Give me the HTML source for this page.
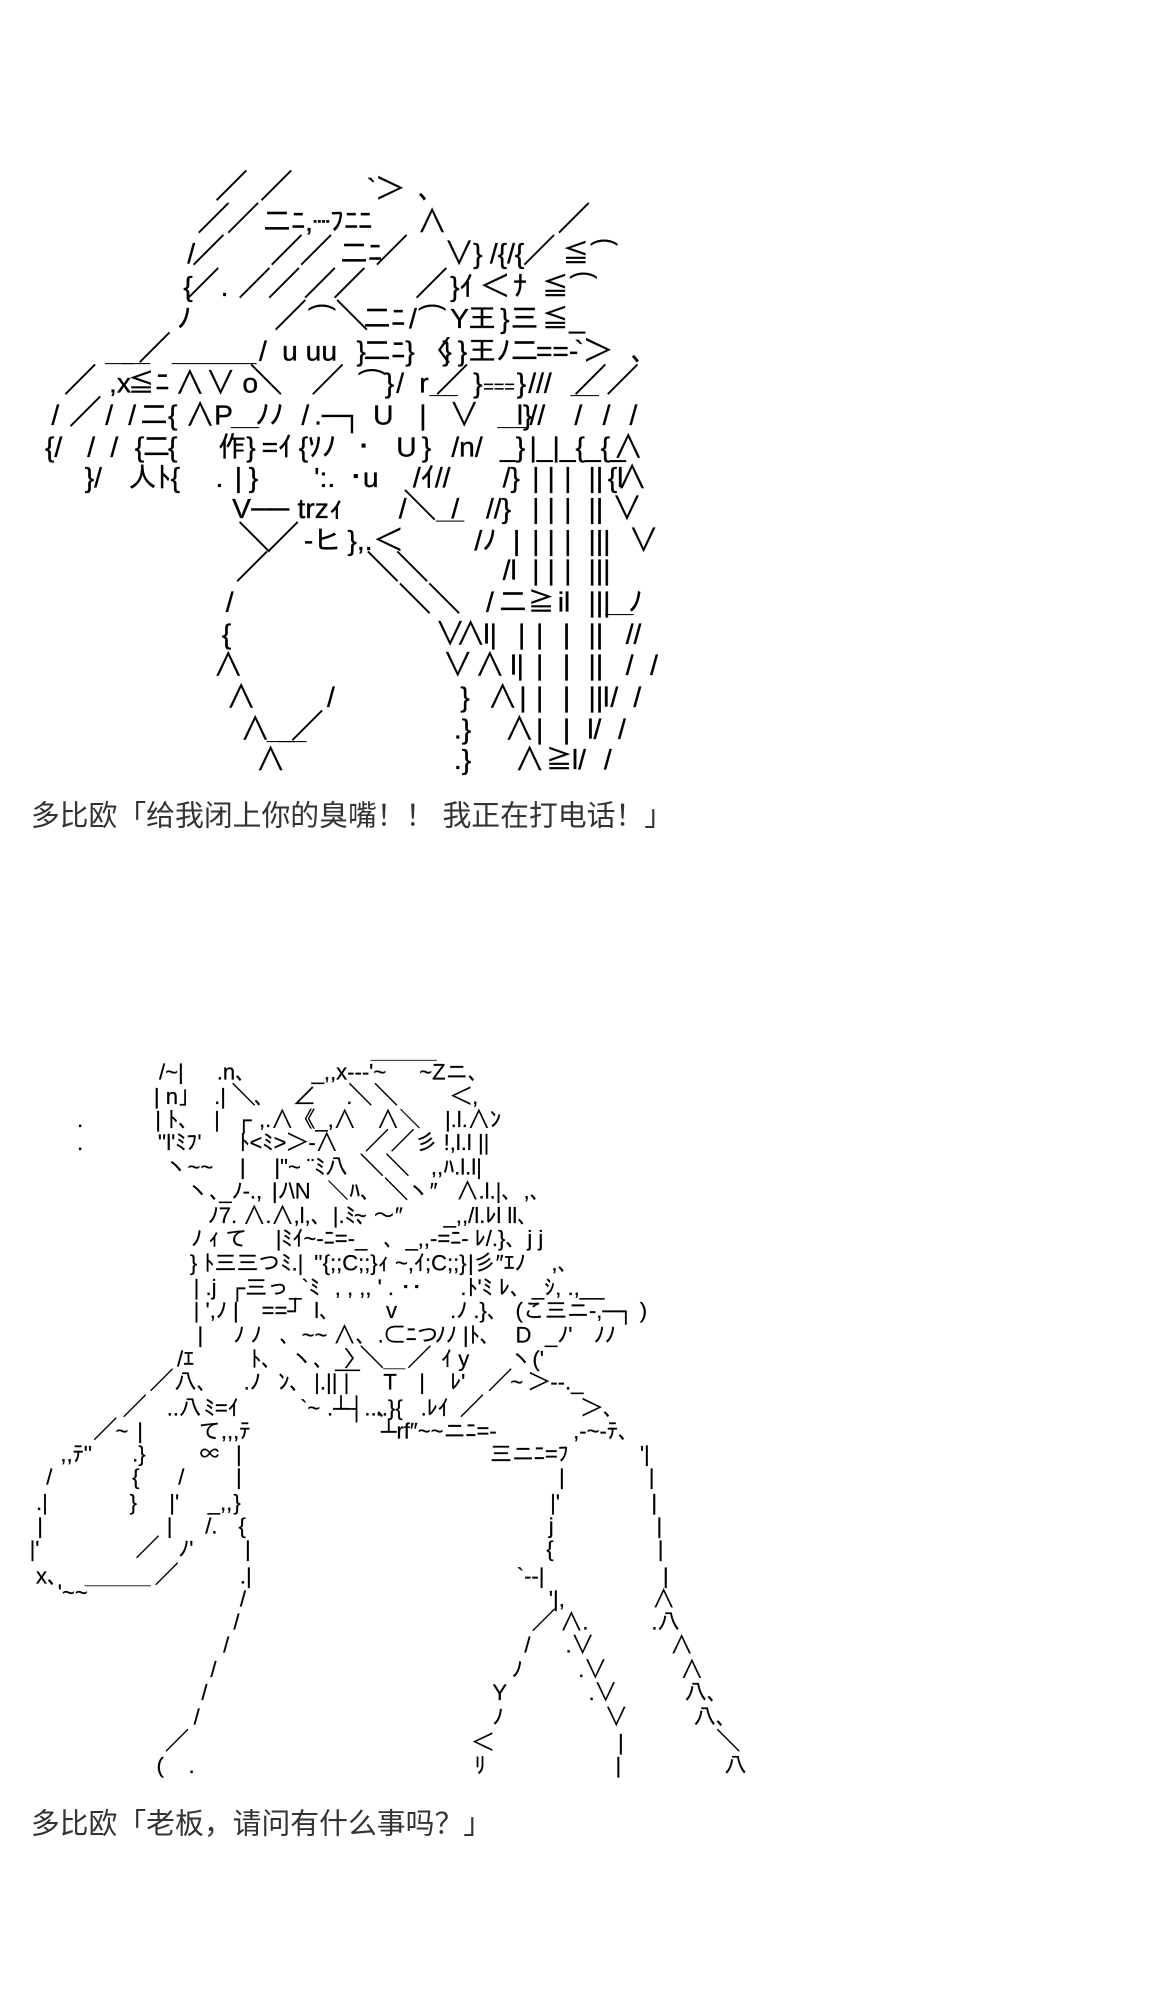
<!DOCTYPE html>
<html><head><meta charset="utf-8"><style>
html,body{margin:0;padding:0;background:#fff;width:1154px;height:1991px;overflow:hidden}
svg{display:block}
text{font-family:"Liberation Sans","IPAGothic",sans-serif;fill:#000;white-space:pre}
.a text{font-size:22px;stroke:#000;stroke-width:.28px}
.a .w{font-size:27px}
.a .e{font-size:14px}
.b text{font-size:17.2px;stroke:#000;stroke-width:.18px}
.b .w{font-size:20px}
.c{font-family:"Liberation Sans","Noto Sans CJK SC",sans-serif;font-size:22.5px;fill:#333}
</style></head><body>
<svg width="1154" height="1991" viewBox="0 0 900 1553" xmlns="http://www.w3.org/2000/svg">
<g class="a">
<text y="155"><tspan class="w" x="167">／</tspan><tspan class="w" x="202">／</tspan><tspan x="286">`＞</tspan><tspan x="326">、</tspan></text>
<text y="180"><tspan class="w" x="153">／</tspan><tspan class="w" x="176">／</tspan><tspan x="205">二ﾆ,┈ﾌﾆﾆ</tspan><tspan x="326">∧</tspan><tspan class="w" x="434">／</tspan></text>
<text y="205"><tspan x="146">/</tspan><tspan class="w" x="149">／</tspan><tspan class="w" x="210">／</tspan><tspan class="w" x="233">／</tspan><tspan x="265">二ﾆ</tspan><tspan class="w" x="292">／</tspan><tspan x="347">∨}</tspan><tspan x="382">/{/{</tspan><tspan class="w" x="407">／</tspan><tspan x="438">≦</tspan><tspan x="460">⌒</tspan></text>
<text y="231"><tspan x="143">{</tspan><tspan class="w" x="145">／</tspan><tspan x="172">.</tspan><tspan class="w" x="185">／</tspan><tspan class="w" x="208">／</tspan><tspan class="w" x="236">／</tspan><tspan class="w" x="259">／</tspan><tspan class="w" x="323">／</tspan><tspan x="351">}ｲ</tspan><tspan x="375">＜</tspan><tspan x="400">ﾅ</tspan><tspan x="422">≦</tspan><tspan x="444">⌒</tspan></text>
<text y="256"><tspan x="138">ﾉ</tspan><tspan class="w" x="213">／</tspan><tspan x="240">⌒</tspan><tspan class="w" x="261">＼</tspan><tspan x="283">二ﾆ</tspan><tspan x="319">/</tspan><tspan x="326">⌒</tspan><tspan x="351">Y</tspan><tspan x="365">王</tspan><tspan x="390">}</tspan><tspan x="398">三</tspan><tspan x="422">≦</tspan><tspan x="444">_</tspan></text>
<text y="281"><tspan x="82">＿</tspan><tspan x="95">＿</tspan><tspan class="w" x="107">／</tspan><tspan x="134">＿＿＿</tspan><tspan x="202">/</tspan><tspan x="220">u uu</tspan><tspan x="278">}</tspan><tspan x="283">二ﾆ</tspan><tspan x="316">}</tspan><tspan x="330">〈</tspan><tspan x="345">}</tspan><tspan x="357">}</tspan><tspan x="365">王</tspan><tspan x="387">ﾉ</tspan><tspan x="398">二</tspan><tspan x="418">==-</tspan><tspan x="448">`＞</tspan><tspan x="492">、</tspan></text>
<text y="306"><tspan class="w" x="49">／</tspan><tspan x="85">,x</tspan><tspan x="99">≦</tspan><tspan x="121">ﾆ</tspan><tspan x="137">∧</tspan><tspan x="161">∨</tspan><tspan x="189">o</tspan><tspan class="w" x="194">＼</tspan><tspan class="w" x="242">／</tspan><tspan x="279">⌒</tspan><tspan x="300">}</tspan><tspan x="309">/</tspan><tspan x="327">r</tspan><tspan x="335">＿</tspan><tspan class="w" x="339">／</tspan><tspan x="369">}</tspan><tspan class="e" x="377">===</tspan><tspan x="403">}</tspan><tspan x="412">///</tspan><tspan x="445">＿</tspan><tspan class="w" x="447">／</tspan><tspan class="w" x="472">／</tspan></text>
<text y="331"><tspan x="40">/</tspan><tspan class="w" x="53">／</tspan><tspan x="82">/</tspan><tspan x="100">/</tspan><tspan x="109">二</tspan><tspan x="131">{</tspan><tspan x="145">∧</tspan><tspan x="167">P</tspan><tspan x="180">＿</tspan><tspan x="199">ﾉﾉ</tspan><tspan x="235">/</tspan><tspan x="245">.─┐</tspan><tspan x="291">U</tspan><tspan x="327">|</tspan><tspan x="351">∨</tspan><tspan x="388">＿</tspan><tspan x="403">l}</tspan><tspan x="413">//</tspan><tspan x="448">/</tspan><tspan x="470">/</tspan><tspan x="491">/</tspan></text>
<text y="356"><tspan x="35">{/</tspan><tspan x="68">/</tspan><tspan x="86">/</tspan><tspan x="105">{</tspan><tspan x="111">二</tspan><tspan x="131">{</tspan><tspan x="170">作</tspan><tspan x="192">}</tspan><tspan x="204">=ｲ</tspan><tspan x="233">{</tspan><tspan x="240">ｿﾉ</tspan><tspan x="278">･</tspan><tspan x="309">U</tspan><tspan x="329">}</tspan><tspan x="352">/n/</tspan><tspan x="390">_}</tspan><tspan x="413">|_|_{_{_</tspan><tspan x="479">∧</tspan></text>
<text y="380"><tspan x="66">}/</tspan><tspan x="100">人ﾄ{</tspan><tspan x="168">.</tspan><tspan x="183">|</tspan><tspan x="194">}</tspan><tspan x="245">':.</tspan><tspan x="272">･u</tspan><tspan x="322">/ｲ//</tspan><tspan x="392">/}</tspan><tspan x="415">|</tspan><tspan x="427">|</tspan><tspan x="440">|</tspan><tspan x="459">||</tspan><tspan x="474">{l</tspan><tspan x="482">∧</tspan></text>
<text y="404"><tspan x="181">V</tspan><tspan x="196">─</tspan><tspan x="210">─</tspan><tspan x="232">trzｨ</tspan><tspan x="311">/</tspan><tspan class="w" x="314">＼</tspan><tspan x="340">＿</tspan><tspan x="352">/</tspan><tspan x="379">//}</tspan><tspan x="415">|</tspan><tspan x="427">|</tspan><tspan x="440">|</tspan><tspan x="459">||</tspan><tspan x="478">∨</tspan></text>
<text y="429"><tspan class="w" x="185">＼</tspan><tspan class="w" x="207">／</tspan><tspan x="237">-ヒ</tspan><tspan x="271">},.</tspan><tspan x="292">＜</tspan><tspan x="370">/ﾉ</tspan><tspan x="400">|</tspan><tspan x="415">|</tspan><tspan x="427">|</tspan><tspan x="440">|</tspan><tspan x="459">|||</tspan><tspan x="491">∨</tspan></text>
<text y="452"><tspan class="w" x="183">／</tspan><tspan class="w" x="285">＼</tspan><tspan class="w" x="308">＼</tspan><tspan x="392">/l</tspan><tspan x="415">|</tspan><tspan x="427">|</tspan><tspan x="440">|</tspan><tspan x="459">|||</tspan></text>
<text y="477"><tspan x="176">/</tspan><tspan class="w" x="310">＼</tspan><tspan class="w" x="333">＼</tspan><tspan x="379">/</tspan><tspan x="389">二</tspan><tspan x="411">≧</tspan><tspan x="435">il</tspan><tspan x="459">|||</tspan><tspan x="472">＿</tspan><tspan x="490">ﾉ</tspan></text>
<text y="502"><tspan x="173">{</tspan><tspan x="340">∨</tspan><tspan x="356">∧</tspan><tspan x="377">l|</tspan><tspan x="404">|</tspan><tspan x="418">|</tspan><tspan x="439">|</tspan><tspan x="459">||</tspan><tspan x="488">//</tspan></text>
<text y="526"><tspan x="167">∧</tspan><tspan x="346">∨</tspan><tspan x="371">∧</tspan><tspan x="398">l|</tspan><tspan x="418">|</tspan><tspan x="439">|</tspan><tspan x="459">||</tspan><tspan x="488">/</tspan><tspan x="507">/</tspan></text>
<text y="551"><tspan x="177">∧</tspan><tspan x="255">/</tspan><tspan x="359">}</tspan><tspan x="381">∧</tspan><tspan x="405">|</tspan><tspan x="418">|</tspan><tspan x="439">|</tspan><tspan x="459">||l</tspan><tspan x="476">/</tspan><tspan x="494">/</tspan></text>
<text y="576"><tspan x="188">∧</tspan><tspan x="208">＿</tspan><tspan x="217">＿</tspan><tspan class="w" x="226">／</tspan><tspan x="354">.}</tspan><tspan x="394">∧</tspan><tspan x="418">|</tspan><tspan x="439">|</tspan><tspan x="458">l/</tspan><tspan x="482">/</tspan></text>
<text y="600"><tspan x="200">∧</tspan><tspan x="354">.}</tspan><tspan x="402">∧</tspan><tspan x="425">≧</tspan><tspan x="446">l/</tspan><tspan x="471">/</tspan></text>
</g>
<text class="c" x="24" y="644">多比欧「给我闭上你的臭嘴！！ 我正在打电话！」</text>
<g class="b" transform="translate(0,-2)">
<text x="60" y="881">.</text>
<text x="60" y="899">.</text>
<text y="844"><tspan x="124">/~|</tspan><tspan x="169">.n、</tspan><tspan x="243">_,,x--‐'~</tspan><tspan x="289">￣￣￣</tspan><tspan x="327">~Zニ、</tspan></text>
<text y="863"><tspan x="120">| n」</tspan><tspan x="167">.|</tspan><tspan class="w" x="180">＼</tspan><tspan x="198">、</tspan><tspan x="229">∠</tspan><tspan x="270">.</tspan><tspan class="w" x="271">＼＼</tspan><tspan x="351">＜,</tspan></text>
<text y="881"><tspan x="121">| ﾄ、</tspan><tspan x="167">|</tspan><tspan x="184">┌</tspan><tspan x="202">,.∧《_,∧</tspan><tspan x="294">∧＼</tspan><tspan x="347">|.l.∧ﾝ</tspan></text>
<text y="899"><tspan x="123">''l'ﾐﾌ'</tspan><tspan x="186">ﾄ&lt;ﾐ&gt;＞-∧</tspan><tspan class="w" x="284">／／</tspan><tspan x="324">彡</tspan><tspan x="346">!,l.l ||</tspan></text>
<text y="918"><tspan x="129">ヽ~~</tspan><tspan x="187">|</tspan><tspan x="214">|"~ ¨ﾐ八</tspan><tspan class="w" x="280">＼＼</tspan><tspan x="336">,,ﾊ.l.l|</tspan></text>
<text y="937"><tspan x="146">ヽ、</tspan><tspan x="171">_ﾉ-.,</tspan><tspan x="212">|ﾉ\N</tspan><tspan x="255">＼ﾊ、</tspan><tspan class="w" x="299">＼</tspan><tspan x="318">ヽ″</tspan><tspan x="356">∧.l.|、,、</tspan></text>
<text y="956"><tspan x="162">ﾉ7. ∧.∧,l,、|.ﾐ、</tspan><tspan x="276">~ ～″</tspan><tspan x="346">_,,/l.ﾚl ll、</tspan></text>
<text y="974"><tspan x="149">ﾉ ｨ て</tspan><tspan x="215">|ﾐｲ~-ﾆ=-_</tspan><tspan x="299">、_,,-=ﾆ- ﾚ/.}、j j</tspan></text>
<text y="993"><tspan x="148">} ﾄ三三つﾐ.|</tspan><tspan x="245">''{;;C;;}ｨ</tspan><tspan x="308">~,ｲ;C;;}</tspan><tspan x="365">|彡″ｴﾉ</tspan><tspan x="430">,、</tspan></text>
<text y="1012"><tspan x="151">| .j</tspan><tspan x="179">┌三っ_`ﾐ</tspan><tspan x="261">, , ,, ' . ･･</tspan><tspan x="359">.ﾄ'ﾐ ﾚ、_ｼ, .,__</tspan></text>
<text y="1030"><tspan x="151">| ',ﾉ |</tspan><tspan x="204">==┘</tspan><tspan x="245">l、</tspan><tspan x="301">v</tspan><tspan x="351">.ﾉ .}、</tspan><tspan x="402">(こ三ニ-,─┐ )</tspan></text>
<text y="1049"><tspan x="154">|</tspan><tspan x="182">ﾉ ﾉ</tspan><tspan x="218">、~~ ∧、.⊂ﾆつ</tspan><tspan x="339">ﾉﾉ |ﾄ、</tspan><tspan x="402">D</tspan><tspan x="425">_ﾉ'</tspan><tspan x="463">ﾉﾉ</tspan></text>
<text y="1068"><tspan x="138">/ｴ</tspan><tspan x="195">ﾄ、</tspan><tspan x="227">ヽ、__</tspan><tspan x="268">〉</tspan><tspan class="w" x="280">＼</tspan><tspan x="299">＿</tspan><tspan class="w" x="317">／</tspan><tspan x="344">ｲ y</tspan><tspan x="398">ヽ('</tspan></text>
<text y="1086"><tspan class="w" x="116">／</tspan><tspan x="136">八、</tspan><tspan x="190">.ﾉ</tspan><tspan x="217">ﾝ、</tspan><tspan x="245">|.|| |</tspan><tspan x="299">T</tspan><tspan x="327">|</tspan><tspan x="351">ﾚ'</tspan><tspan class="w" x="380">／</tspan><tspan x="398">~</tspan><tspan x="412">＞--._</tspan></text>
<text y="1106"><tspan class="w" x="95">／</tspan><tspan x="130">..八</tspan><tspan x="159">ﾐ=ｲ</tspan><tspan x="234">`~</tspan><tspan x="255">.┴┤..、</tspan><tspan x="293">..}{</tspan><tspan x="328">.ﾚｲ</tspan><tspan class="w" x="358">／</tspan><tspan x="453">＞、</tspan></text>
<text y="1124"><tspan class="w" x="72">／</tspan><tspan x="90">~</tspan><tspan x="107">|</tspan><tspan x="155">て,,,ﾃ</tspan><tspan x="297">┴rf″~~ニﾆ=-</tspan><tspan x="447">,-~-ﾃ、</tspan></text>
<text y="1142"><tspan x="47">,,ﾃ''</tspan><tspan x="103">.}</tspan><tspan x="155">∝</tspan><tspan x="184">|</tspan><tspan x="382">三ニﾆ=ﾌ</tspan><tspan x="499">'|</tspan></text>
<text y="1160"><tspan x="36">/</tspan><tspan x="103">{</tspan><tspan x="139">/</tspan><tspan x="184">|</tspan><tspan x="436">|</tspan><tspan x="506">|</tspan></text>
<text y="1180"><tspan x="28">.|</tspan><tspan x="101">}</tspan><tspan x="132">|'</tspan><tspan x="162">_,,</tspan><tspan x="182">}</tspan><tspan x="429">|'</tspan><tspan x="508">|</tspan></text>
<text y="1198"><tspan x="29">|</tspan><tspan x="130">|</tspan><tspan x="160">/.</tspan><tspan x="186">{</tspan><tspan x="428">j</tspan><tspan x="512">|</tspan></text>
<text y="1216"><tspan x="23">|'</tspan><tspan class="w" x="105">／</tspan><tspan x="139">ﾉ'</tspan><tspan x="191">|</tspan><tspan x="426">{</tspan><tspan x="513">|</tspan></text>
<text y="1237"><tspan x="28">x、</tspan><tspan x="66">＿＿＿</tspan><tspan class="w" x="120">／</tspan><tspan x="187">.|</tspan><tspan x="403">`--|</tspan><tspan x="517">|</tspan></text>
<text y="1250"><tspan x="45">'~~</tspan></text>
<text y="1255"><tspan x="187">/</tspan><tspan x="428">'|,</tspan><tspan x="509">∧</tspan></text>
<text y="1273"><tspan x="182">/</tspan><tspan class="w" x="414">／</tspan><tspan x="437">∧.</tspan><tspan x="508">.八</tspan></text>
<text y="1291"><tspan x="174">/</tspan><tspan x="409">/</tspan><tspan x="441">.∨</tspan><tspan x="523">∧</tspan></text>
<text y="1310"><tspan x="164">/</tspan><tspan x="399">ﾉ</tspan><tspan x="451">.∨</tspan><tspan x="531">∧</tspan></text>
<text y="1328"><tspan x="157">/</tspan><tspan x="384">Y</tspan><tspan x="459">.∨</tspan><tspan x="534">八、</tspan></text>
<text y="1347"><tspan x="151">/</tspan><tspan x="384">ﾉ</tspan><tspan x="472">∨</tspan><tspan x="541">八、</tspan></text>
<text y="1367"><tspan class="w" x="128">／</tspan><tspan x="368">＜</tspan><tspan x="482">|</tspan><tspan class="w" x="558">＼</tspan></text>
<text y="1385"><tspan x="122">(</tspan><tspan x="147">.</tspan><tspan x="370">ﾘ</tspan><tspan x="480">|</tspan><tspan x="565">八</tspan></text>
</g>
<text class="c" x="24" y="1430">多比欧「老板，请问有什么事吗？」</text>
</svg>
</body></html>
